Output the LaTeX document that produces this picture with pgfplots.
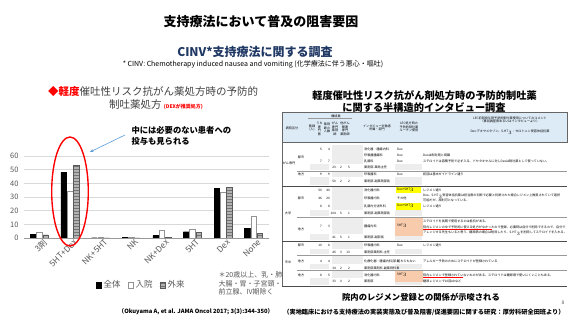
\documentclass[border=0pt]{standalone}
\usepackage{pgfplots}
\pgfplotsset{compat=1.18}
\usepackage{fontspec}
\setmainfont{Noto Sans CJK JP}
\usetikzlibrary{patterns,arrows.meta}
\definecolor{navy}{HTML}{203864}
\definecolor{txtgray}{HTML}{595959}
\definecolor{ttlgray}{HTML}{404040}
\definecolor{gridgray}{HTML}{D9D9D9}
\definecolor{hdrblue}{HTML}{DDEBF7}
\definecolor{cellgray}{HTML}{EDEDED}
\definecolor{yel}{HTML}{FFFF00}
\definecolor{ora}{HTML}{F8CBAD}
\definecolor{arrowblue}{HTML}{5B9BD5}
\newcommand\fs[1]{\fontsize{#1}{#1}\selectfont}
\newcommand\ts{\fontsize{3.1}{3.6}\selectfont}
\begin{document}
\begin{tikzpicture}[x=1pt,y=1pt]
\useasboundingbox (0,0) rectangle (569,-320);
\fill[white] (0,0) rectangle (569,-320);

% ---- titles
\node[font=\bfseries\fs{13}] at (261,-22) {支持療法において普及の阻害要因};
\node[font=\bfseries\fs{12}, text=navy] at (255,-52) {CINV*支持療法に関する調査};
\node[font=\fs{7}] at (253,-64) {* CINV: Chemotherapy induced nausea and vomiting (化学療法に伴う悪心・嘔吐)};

% ---- left chart title
\node[font=\fs{10.5}, text=ttlgray] at (153,-92) {{\color{red}◆\bfseries 軽度}催吐性リスク抗がん薬処方時の予防的};
\node[font=\fs{10.5}, text=ttlgray] at (156,-105) {制吐薬処方 {\color{red}\bfseries\fs{5}(DEXが推奨処方)}};

\begin{axis}[
  at={(24pt,-238pt)}, anchor=south west,
  scale only axis, width=245pt, height=82pt,
  ymin=0, ymax=60, ytick={0,10,...,60},
  xmin=-0.5, xmax=7.5,
  xtick={0,...,7},
  xticklabels={3剤,5HT+Dex,NK+5HT,NK,NK+Dex,5HT,Dex,None},
  ybar=0.6pt, bar width=5.6pt,
  ymajorgrids, grid style={gridgray, line width=0.5pt},
  axis line style={draw=none},
  major tick length=0pt,
  /pgf/number format/assume math mode=true,
  yticklabel style={font=\fs{7.5}, text=txtgray, xshift=-2pt},
  xticklabel style={font=\fs{8.3}, text=txtgray, rotate=45, anchor=north east, inner sep=1pt, xshift=3pt, yshift=-1.5pt},
  legend style={at={(0.478,-0.573)}, anchor=center, legend columns=3, draw=none, fill=none,
    font=\fs{8.5}, text=txtgray, inner sep=0pt,
    /tikz/every even column/.append style={column sep=5pt}},
  legend image code/.code={\draw[#1] (0pt,-2.8pt) rectangle (5.6pt,2.8pt);},
]
\addplot[fill=black, draw=black] coordinates {(0,2.9) (1,48) (2,0.2) (3,0.3) (4,1.7) (5,4.6) (6,36.3) (7,7)};
\addplot[fill=white, draw=gray!85] coordinates {(0,4.4) (1,33.9) (2,0.6) (3,0.9) (4,5.4) (5,6.3) (6,33.4) (7,15.8)};
\addplot[fill=gray!60, draw=black!65, postaction={pattern=horizontal lines, pattern color=black!55}] coordinates {(0,2.4) (1,53.4) (2,0.2) (3,0.2) (4,0.7) (5,3.9) (6,37) (7,3.4)};
\legend{全体,入院,外来}
\draw[gray!80, line width=0.5pt] (axis cs:-0.5,0) -- (axis cs:7.5,0);
\end{axis}

% ---- annotations on chart
\draw[red, line width=1.4pt] (70,-191.5) ellipse [x radius=18.3, y radius=54.5];
\draw[arrowblue, line width=0.6pt, -{Stealth[length=3.5pt,width=3pt]}] (125,-135) -- (90,-152);
\node[font=\bfseries\fs{8.3}, anchor=west, align=left] at (128,-135.5) {中には必要のない患者への\\[2.6pt]投与も見られる};
\node[font=\fs{7}, text=txtgray, anchor=west, align=left] at (215,-283.5) {＊20歳以上、乳・肺\\[1.5pt]大腸・胃・子宮頸・\\[1.5pt]前立腺、IV期除く};
\node[font=\bfseries\fs{5.8}] at (196,-312) {（Okuyama A, et al. JAMA Oncol 2017; 3(3):344-350）};

% ---- right: table title
\node[font=\bfseries\fs{10.2}] at (424.5,-96) {軽度催吐性リスク抗がん剤処方時の予防的制吐薬};
\node[font=\bfseries\fs{10.2}] at (424,-108) {に関する半構造的インタビュー調査};

% ---- table
\fill[hdrblue] (282,-112) rectangle (567,-142);
\draw[black!60, line width=0.4pt] (282,-112) rectangle (567,-142);
% gray blocks
\foreach \a/\b/\c in {145/164/170, 172/177/185, 187/210/216, 218/234/240, 242/249/254, 256/264/269, 271/278/285}{
  \fill[cellgray] (332,-\a) rectangle (363,-\b);
  \fill[cellgray] (310,-\b) rectangle (329,-\c);
  \fill[cellgray] (395,-\b) rectangle (422,-\c);
}
% coloured cells
\fill[yel] (396,-186.5) rectangle (421,-193);
\fill[yel] (396,-203) rectangle (421,-209.5);
\fill[ora] (395,-218) rectangle (423,-236);
\fill[ora] (395,-271) rectangle (423,-282);
% lines
\draw[black!60, line width=0.4pt] (282,-112) -- (282,-286);
\draw[black!40, line width=0.3pt] (297,-171) -- (567,-171);
\draw[black!70, line width=0.5pt] (282,-186) -- (567,-186);
\draw[black!40, line width=0.3pt] (297,-217) -- (567,-217);
\draw[black!70, line width=0.5pt] (282,-241) -- (567,-241);
\draw[black!40, line width=0.3pt] (297,-255) -- (567,-255);
\draw[black!40, line width=0.3pt] (297,-270) -- (567,-270);
\draw[black!70, line width=0.5pt] (282,-286) -- (567,-286);

% header text
\begin{scope}[every node/.style={font=\ts, inner sep=0pt, align=center}]
\node at (292,-128) {病院区分};
\node at (336,-116) {構成員};
\draw[black!40, line width=0.2pt] (308,-118.5) -- (352,-118.5);
\node at (312,-128) {医師\\(人)};
\node at (319.5,-129) {うち\\専\\門\\医};
\node at (327,-128) {薬剤\\師の\\人数};
\node at (335,-129) {がん\\専門\\薬剤\\師};
\node at (345,-129) {他がん\\関連\\専門\\薬剤師};
\node at (377,-128) {インタビュー対象者\\所属・部門};
\node at (409,-127) {LEC処方時の\\予防的制吐薬\\ルーチン使用};
\node at (510,-120) {LEC初回投与時予防的制吐薬使用についてのコメント\\（事前調査票あるいはインタビューより）};
\node at (510,-132) {Dex:デキサメタゾン、5-HT$_3$：セロトニン受容体拮抗薬};
% group labels
\node at (289,-163) {がん専門};
\node at (288,-213) {大学};
\node at (288,-262) {市中};
\node at (301,-157) {都市};
\node at (301,-174) {地方};
\node at (301,-198) {都市};
\node at (301,-229) {地方};
\node at (301,-245) {都市};
\node at (301,-261) {地方};
\node at (301,-275) {地方};
\end{scope}

\begin{scope}[every node/.style={font=\ts, inner sep=0pt}]
% doctor numbers
\foreach \y/\p/\q in {149/5/4, 161/7/7, 174/9/9, 190/50/40, 198/46/20, 206/8/8, 226/7/3, 245/10/6, 261/4/4, 275/8/5}{
  \node[anchor=east] at (322,-\y) {\p};
  \node[anchor=east] at (330,-\y) {\q};
}
% pharmacist numbers
\foreach \y/\p/\q/\r in {167/23/2/5, 181/50/2/2, 213/104/5/1, 237/41/5/1, 252/45/3/13, 268/34/2/2, 281/33/0/2}{
  \node[anchor=east] at (336,-\y) {\p};
  \node[anchor=east] at (342,-\y) {\q};
  \node[anchor=east] at (350,-\y) {\r};
}
% departments
\node[anchor=west] at (364,-149) {消化器・腫瘍内科};
\node[anchor=west] at (364,-155) {呼吸器腫瘍科};
\node[anchor=west] at (364,-161) {乳腺科};
\node[anchor=west] at (364,-167) {薬剤部-薬局主任};
\node[anchor=west] at (364,-174) {呼吸器科};
\node[anchor=west] at (364,-181) {薬剤部-副薬剤部長};
\node[anchor=west] at (364,-190) {消化器内科};
\node[anchor=west] at (364,-198) {呼吸器内科};
\node[anchor=west] at (364,-206) {乳腺内分泌外科};
\node[anchor=west] at (364,-213) {薬剤部-副薬剤部長};
\node[anchor=west] at (364,-226) {腫瘍内科};
\node[anchor=west] at (364,-237) {薬剤部-副部長};
\node[anchor=west] at (364,-245) {呼吸器内科};
\node[anchor=west] at (364,-252) {薬剤部薬剤科-主任};
\node[anchor=west] at (364,-261) {化療化器・腫瘍内科(部長)};
\node[anchor=west] at (364,-268) {薬剤部薬剤科-副薬剤科長};
\node[anchor=west] at (364,-275) {消化器内科};
\node[anchor=west] at (364,-281) {薬剤部};
% LEC routine
\node[anchor=west] at (397,-149) {Dex};
\node[anchor=west] at (397,-155) {Dex};
\node[anchor=west] at (397,-161) {Dex};
\node[anchor=west] at (397,-174) {Dex};
\node[anchor=west] at (397,-190) {Dex+5HT$_3$};
\node[anchor=west] at (397,-198) {その他};
\node[anchor=west] at (397,-206) {Dex+5HT$_3$};
\node[anchor=west] at (397,-226) {5HT$_3$};
\node[anchor=west] at (397,-245) {Dex};
\node[anchor=west] at (397,-261) {どちらもない};
\node[anchor=west] at (397,-275) {5HT$_3$};
% comments
\node[anchor=west] at (423,-155) {Dexは制吐剤と認識};
\node[anchor=west] at (423,-161) {ステロイドは容積予防で必ず入る。ドセタキセルに対しDexは制吐薬として使っていない。};
\node[anchor=west] at (423,-174) {初回は基本ガイドライン通り};
\node[anchor=west] at (423,-190) {レジメン通り};
\node[anchor=west] at (423,-196) {Dex、5-HT$_3$受容体拮抗薬は担当医の判断で必要と判断された場合レジメン上推奨されていて選択};
\node[anchor=west] at (423,-200.5) {可能だが、原則可となっている。};
\node[anchor=west] at (423,-206) {レジメン通り};
\node[anchor=west] at (423,-221) {ステロイドを長期で使用するのは抵抗がある。};
\node[anchor=west] at (423,-227) {院内レジメンの中で予防的に使える処方がなかったので登録。必要時は自分で削除できるので、自分で};
\node[anchor=west] at (423,-233) {アレンジする先生もいると思う。糖尿病の場合は削除したり、5-HT$_3$を削除してステロイドを入れる。};
\node[anchor=west] at (423,-245) {レジメン通り};
\node[anchor=west] at (423,-261) {アレルギー予防のためにステロイドが登録されている};
\node[anchor=west] at (423,-275) {院内レジメンで登録されていないものがある。ステロイドは糖尿病で使いにくいこともある。};
\node[anchor=west] at (423,-281) {糖尿レジメンで10回ebなど};
\end{scope}
\draw[red, line width=0.6pt] (423,-229) -- (492,-229);
\draw[red, line width=0.6pt] (423,-277) -- (463,-277);

% ---- bottom texts
\node[font=\bfseries\fs{8.3}] at (421,-297) {院内のレジメン登録との関係が示唆される};
\node[font=\bfseries\fs{6.2}] at (424,-312) {（実地臨床における支持療法の実装実態及び普及阻害/促進要因に関する研究：厚労科研全田班より）};
\node[font=\fs{5}, text=txtgray] at (563,-303) {8};
\end{tikzpicture}
\end{document}
